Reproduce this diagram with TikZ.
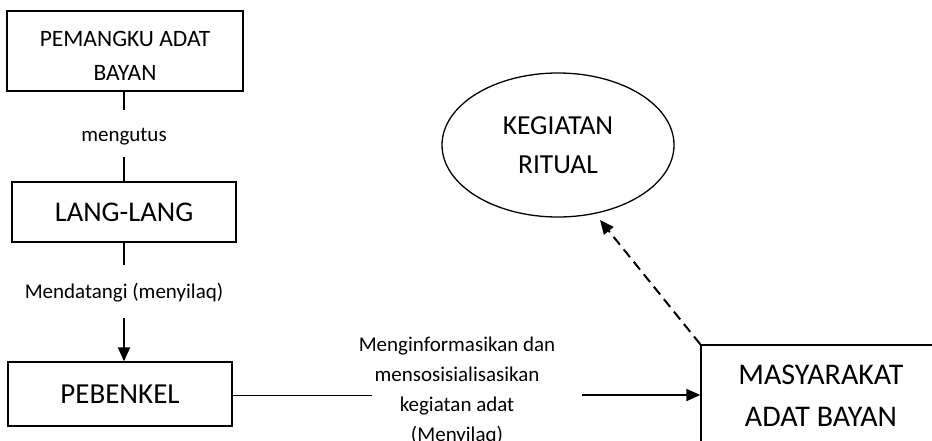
\documentclass[tikz,border=0pt]{standalone}
\usepackage{fontspec}
\setmainfont{Carlito}
\usetikzlibrary{arrows.meta,shapes.geometric}
\begin{document}
\begin{tikzpicture}[x=1pt,y=-1pt,
  box/.style={draw,line width=1.4pt,inner sep=0pt,align=center},
  conn/.style={line width=2pt},
  thin/.style={line width=1pt},
  tip/.style={-{Triangle[length=14pt,width=12pt]}},
  dashline/.style={dash pattern=on 10pt off 6pt},
  lbl/.style={font=\fontsize{21}{30}\selectfont,inner sep=0pt,align=center},
]
\useasboundingbox (0,0) rectangle (932,440);
% boxes
\node[box,minimum width=236pt,minimum height=80pt] (b1) at (125,51) {};
\node[inner sep=0pt,align=center,font=\fontsize{23.5}{34}\selectfont] (b1t) at (125,56) {PEMANGKU ADAT\\BAYAN};
\node[box,minimum width=224pt,minimum height=60pt,font=\fontsize{28.5}{34}\selectfont] (b2) at (124,212) {LANG-LANG};
\node[box,minimum width=224pt,minimum height=64pt,font=\fontsize{29}{34}\selectfont] (b3) at (120,394) {PEBENKEL};
\node[box,minimum width=240pt,minimum height=102pt,font=\fontsize{30}{42}\selectfont] (b4) at (821,396) {MASYARAKAT\\ADAT BAYAN};
\node[draw,ellipse,line width=1.3pt,minimum width=232pt,minimum height=144pt,inner sep=0pt,align=center,font=\fontsize{27.5}{39}\selectfont] (ell) at (558,145) {KEGIATAN\\RITUAL};
% labels
\node[lbl,anchor=base] (l1) at (124,141.5) {mengutus};
\node[lbl,anchor=base] (l2) at (124,298) {Mendatangi (menyilaq)};
\node[lbl,anchor=north] (l3) at (457,337) {Menginformasikan dan\\mensosisialisasikan\\kegiatan adat\\(Menyilaq)};
% connector ends
\coordinate (a1) at (124,110);
\coordinate (a2) at (124,157);
\coordinate (a3) at (124,265);
\coordinate (a4) at (124,318);
\coordinate (c1) at (372,395);
\coordinate (c2) at (582,395);
\coordinate (t) at (600,220);
% connectors
\draw[conn] (b1.south -| a1) -- (a1);
\draw[conn] (a2) -- (b2.north -| a2);
\draw[conn] (b2.south -| a3) -- (a3);
\draw[conn,tip] (a4) -- (b3.north -| a4);
\draw[thin] (c1 -| b3.east) -- (c1);
\draw[conn,tip] (c2) -- (c2 -| b4.west);
\draw[conn,dashline,tip] (b4.north west) -- (t);
\end{tikzpicture}
\end{document}
